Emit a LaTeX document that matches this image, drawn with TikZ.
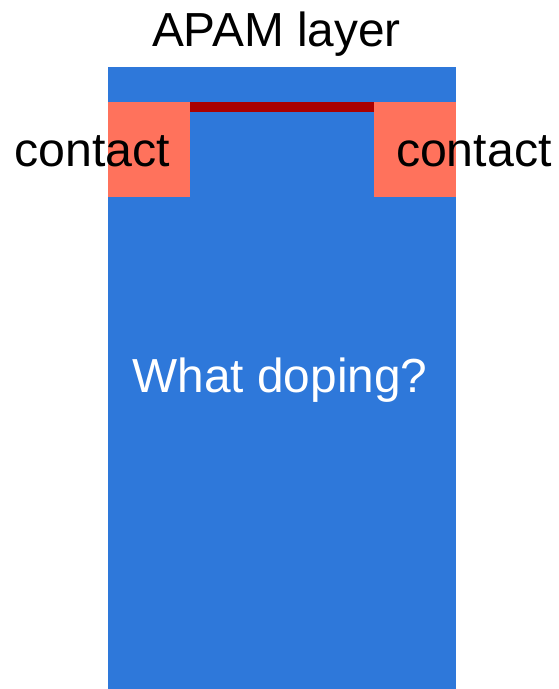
\documentclass[tikz,border=0pt]{standalone}
\usepackage{fontspec}
\setmainfont{Liberation Sans}
\usetikzlibrary{positioning}

\definecolor{bulkblue}{RGB}{46,120,218}
\definecolor{contactred}{RGB}{255,114,92}
\definecolor{apamred}{RGB}{170,0,0}

\begin{document}
\begin{tikzpicture}[
        lbl/.style={inner sep=0pt, anchor=base, font=\fontsize{27.2}{32}\selectfont},
        region/.style={draw=none, inner sep=0pt, outer sep=0pt}
    ]
    \useasboundingbox (0,0) rectangle (11.18,13.78);

    % ---- Substrate (bulk) ----
    \node[region, fill=bulkblue, anchor=south west, minimum width=6.96cm, minimum height=12.44cm] (bulk) at (2.16, 0) {};

    % ---- Contacts and APAM layer between them ----
    \node[region, fill=contactred, anchor=south west, minimum width=1.64cm, minimum height=1.90cm] (cleft) at (2.16, 9.84) {};
    \node[region, fill=contactred, anchor=south west, minimum width=1.64cm, minimum height=1.90cm] (cright) at (7.48, 9.84) {};
    \node[region, fill=apamred, anchor=north west, minimum width=3.68cm, minimum height=0.20cm] (apam) at (cleft.north east) {};

    % ---- Labels ----
    \node[lbl] (title) at (5.53, 12.84) {APAM layer};
    \node[lbl, anchor=base west, xscale=1.01] (lcontact) at (0.28, 10.44) {contact};
    \node[lbl, anchor=base east, xscale=1.01] (rcontact) at (11.04, 10.44) {contact};
    \node[lbl, text=white] (question) at (5.60, 5.92) {What doping?};

\end{tikzpicture}
\end{document}
